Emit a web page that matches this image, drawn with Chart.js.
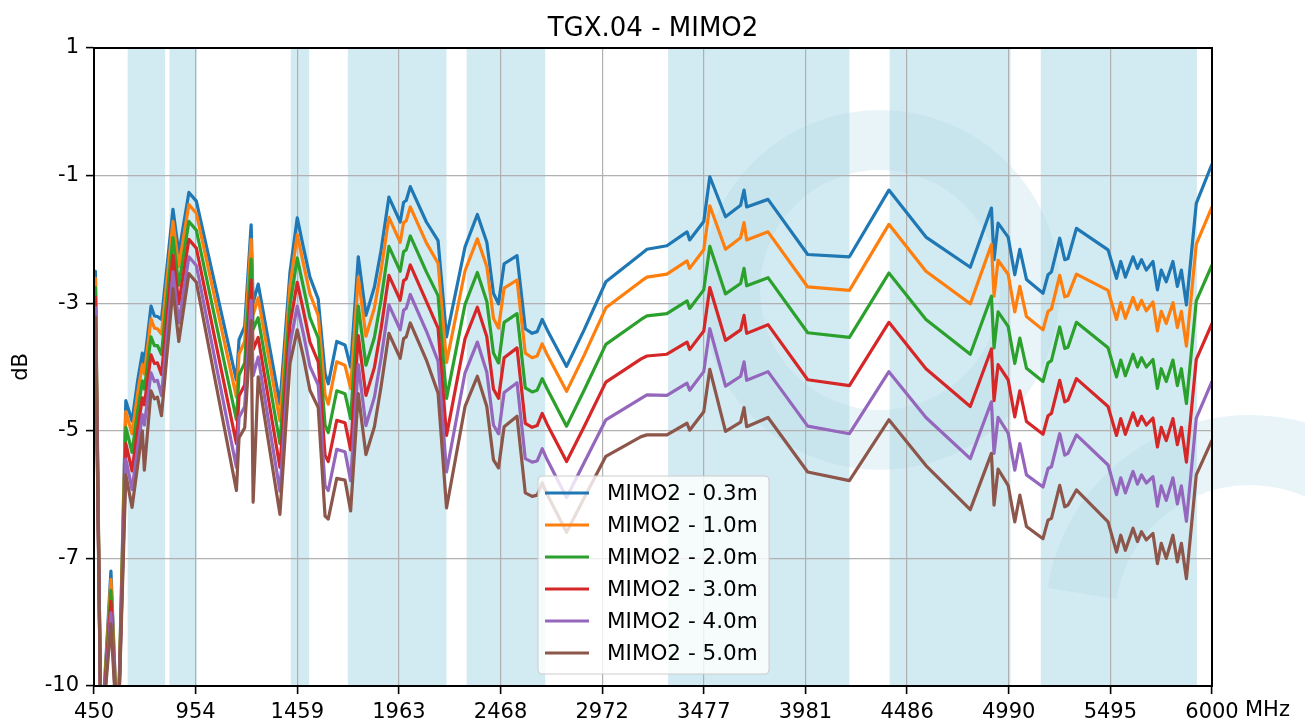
<!DOCTYPE html>
<html>
<head>
<meta charset="utf-8">
<title>TGX.04 - MIMO2</title>
<script src="https://cdn.jsdelivr.net/npm/chart.js@4.4.1/dist/chart.umd.min.js"></script>
<style>
  html, body { margin: 0; padding: 0; background: #fff; }
  #wrap { width: 1305px; height: 722px; }
</style>
</head>
<body>
<div id="wrap"><canvas id="chart" width="1305" height="722"></canvas></div>
<script>
// ---- data ----
const chartTitle = 'TGX.04 - MIMO2';
const seriesLabels = ['MIMO2 - 0.3m', 'MIMO2 - 1.0m', 'MIMO2 - 2.0m', 'MIMO2 - 3.0m', 'MIMO2 - 4.0m', 'MIMO2 - 5.0m'];

const freqMHz = [
  450, 457, 485, 534, 568, 608, 639, 667, 690, 700,
  733, 750, 765, 785, 842, 871, 921, 958, 1157, 1170,
  1198, 1230, 1240, 1265, 1373, 1423, 1459, 1489, 1522, 1563,
  1597, 1613, 1655, 1696, 1724, 1762, 1800, 1842, 1875, 1914,
  1970, 1987, 2000, 2020, 2100, 2158, 2200, 2292, 2353, 2400,
  2433, 2458, 2486, 2550, 2591, 2625, 2650, 2675, 2700, 2796,
  2883, 2991, 3166, 3195, 3294, 3394, 3407, 3477, 3507, 3585,
  3660, 3677, 3690, 3796, 3993, 4200, 4396, 4580, 4800, 4905,
  4918, 4938, 4988, 5021, 5046, 5079, 5161, 5186, 5203, 5244,
  5269, 5285, 5327, 5484, 5526, 5547, 5570, 5608, 5630, 5650,
  5674, 5707, 5729, 5748, 5773, 5806, 5828, 5848, 5873, 5922,
  6000
];

const mimo03 = [
  -3.0, -2.85, -11, -8.02, -11, -5.08, -5.43, -4.73, -4.26, -4.44,
  -3.45, -3.62, -3.63, -3.68, -1.78, -2.54, -1.49, -1.64, -4.73, -4.03,
  -3.80, -2.05, -3.4, -3.07, -5.14, -2.86, -1.93, -2.43, -2.95, -3.33,
  -4.61, -4.79, -4.06, -4.12, -4.50, -2.6, -3.61, -3.12, -2.49, -1.57,
  -2.0, -1.66, -1.63, -1.39, -2.0, -2.32, -3.98, -2.43, -1.87, -2.35,
  -3.23, -3.41, -2.72, -2.58, -3.84, -3.92, -3.89, -3.68, -3.86, -4.49,
  -3.86, -3.03, -2.55, -2.47, -2.41, -2.17, -2.31, -1.99, -1.22, -1.91,
  -1.71, -1.45, -1.74, -1.61, -2.56, -2.6, -1.45, -2.26, -2.78, -1.76,
  -2.65, -2.02, -2.26, -2.91, -2.47, -2.99, -3.23, -2.91, -2.86, -2.28,
  -2.65, -2.63, -2.11, -2.48, -2.97, -2.68, -2.95, -2.6, -2.8, -2.65,
  -2.83, -2.68, -3.17, -2.83, -3.03, -2.68, -3.11, -2.83, -3.43, -1.68,
  -1.0
];

const mimo10 = [
  -3.1, -2.97, -11, -8.16, -11, -5.27, -5.65, -4.95, -4.46, -4.62,
  -3.67, -3.83, -3.84, -3.93, -1.99, -2.77, -1.7, -1.85, -5.02, -4.28,
  -4.06, -2.3, -3.6, -3.31, -5.43, -3.1, -2.22, -2.71, -3.24, -3.61,
  -4.98, -5.14, -4.41, -4.47, -4.87, -2.95, -3.97, -3.48, -2.84, -1.92,
  -2.35, -2.01, -1.98, -1.74, -2.36, -2.71, -4.42, -2.84, -2.29, -2.77,
  -3.66, -3.83, -3.14, -3.0, -4.26, -4.34, -4.31, -4.1, -4.29, -4.92,
  -4.3, -3.48, -3.02, -2.95, -2.9, -2.67, -2.8, -2.48, -1.72, -2.47,
  -2.27, -2.01, -2.31, -2.17, -3.12, -3.18, -2.04, -2.85, -3.41, -2.39,
  -3.28, -2.66, -2.9, -3.55, -3.11, -3.63, -3.86, -3.54, -3.5, -2.92,
  -3.29, -3.27, -2.9, -3.18, -3.68, -3.39, -3.66, -3.3, -3.51, -3.35,
  -3.53, -3.38, -3.88, -3.54, -3.75, -3.39, -3.82, -3.54, -4.14, -2.38,
  -1.74
];

const mimo20 = [
  -3.25, -3.13, -11, -8.35, -11, -5.54, -5.97, -5.26, -4.74, -4.88,
  -3.98, -4.13, -4.13, -4.28, -2.27, -3.09, -1.99, -2.14, -5.41, -4.64,
  -4.43, -2.64, -3.85, -3.65, -5.82, -3.43, -2.62, -3.11, -3.65, -4.0,
  -5.5, -5.63, -4.91, -4.96, -5.39, -3.45, -4.47, -3.99, -3.34, -2.42,
  -2.85, -2.51, -2.48, -2.24, -2.86, -3.27, -5.04, -3.42, -2.87, -3.37,
  -4.26, -4.43, -3.73, -3.58, -4.86, -4.93, -4.9, -4.7, -4.88, -5.52,
  -4.9, -4.11, -3.68, -3.62, -3.58, -3.36, -3.49, -3.17, -2.42, -3.24,
  -3.06, -2.8, -3.1, -2.96, -3.91, -3.99, -2.88, -3.68, -4.28, -3.28,
  -4.17, -3.55, -3.8, -4.44, -4.0, -4.52, -4.75, -4.43, -4.39, -3.81,
  -4.18, -4.16, -3.73, -4.17, -4.67, -4.38, -4.65, -4.28, -4.5, -4.34,
  -4.5, -4.37, -4.87, -4.53, -4.75, -4.38, -4.82, -4.53, -5.13, -3.36,
  -2.74
];

const mimo30 = [
  -3.4, -3.3, -11, -8.54, -11, -5.82, -6.29, -5.57, -5.03, -5.15,
  -4.29, -4.44, -4.43, -4.63, -2.57, -3.41, -2.3, -2.45, -5.82, -5.0,
  -4.81, -3.0, -4.2, -3.99, -6.23, -3.77, -3.04, -3.52, -4.07, -4.41,
  -6.02, -6.13, -5.42, -5.46, -5.93, -3.96, -4.99, -4.51, -3.84, -2.92,
  -3.35, -3.01, -2.98, -2.74, -3.37, -3.83, -5.68, -4.01, -3.47, -3.98,
  -4.88, -5.04, -4.34, -4.17, -5.47, -5.54, -5.51, -5.3, -5.49, -6.13,
  -5.53, -4.76, -4.36, -4.31, -4.28, -4.07, -4.2, -3.88, -3.13, -4.04,
  -3.86, -3.61, -3.92, -3.77, -4.72, -4.82, -3.73, -4.53, -5.18, -4.19,
  -5.08, -4.46, -4.72, -5.36, -4.91, -5.44, -5.66, -5.34, -5.3, -4.73,
  -5.1, -5.07, -4.7, -5.18, -5.68, -5.39, -5.66, -5.29, -5.51, -5.35,
  -5.5, -5.38, -5.88, -5.54, -5.77, -5.39, -5.84, -5.54, -6.14, -4.37,
  -3.75
];

const mimo40 = [
  -3.6, -3.47, -11, -8.74, -11, -6.09, -6.61, -5.88, -5.32, -5.5,
  -4.6, -4.75, -4.73, -4.99, -2.86, -3.74, -2.6, -2.75, -6.23, -5.37,
  -5.18, -3.35, -4.65, -4.33, -6.64, -4.11, -3.45, -3.92, -4.49, -4.81,
  -6.55, -6.63, -5.92, -5.96, -6.46, -4.46, -5.51, -5.02, -4.35, -3.43,
  -3.86, -3.52, -3.49, -3.25, -3.88, -4.4, -6.31, -4.6, -4.07, -4.59,
  -5.5, -5.65, -4.94, -4.77, -6.08, -6.14, -6.12, -5.91, -6.1, -6.75,
  -6.15, -5.41, -5.04, -4.98, -4.99, -4.78, -4.9, -4.58, -3.84, -4.83,
  -4.66, -4.41, -4.73, -4.58, -5.52, -5.65, -4.58, -5.37, -6.08, -5.1,
  -5.99, -5.37, -5.64, -6.28, -5.82, -6.36, -6.57, -6.25, -6.22, -5.65,
  -6.02, -5.99, -5.67, -6.19, -6.7, -6.41, -6.67, -6.3, -6.52, -6.36,
  -6.5, -6.39, -6.9, -6.55, -6.8, -6.41, -6.86, -6.55, -7.16, -5.38,
  -4.75
];

const mimo50 = [
  -5.07, -3.64, -11, -8.93, -11, -6.36, -6.92, -6.19, -5.6, -6.28,
  -4.91, -5.05, -5.02, -5.34, -3.15, -4.06, -2.89, -3.04, -6.63, -5.72,
  -5.55, -3.7, -6.83, -4.67, -7.04, -4.44, -3.86, -4.32, -4.9, -5.2,
  -7.07, -7.12, -6.42, -6.45, -6.98, -4.96, -6.01, -5.53, -4.84, -3.92,
  -4.35, -4.01, -3.98, -3.74, -4.38, -4.95, -6.93, -5.18, -4.66, -5.18,
  -6.1, -6.24, -5.53, -5.35, -6.67, -6.73, -6.71, -6.5, -6.7, -7.35,
  -6.76, -6.04, -5.7, -5.67, -5.67, -5.47, -5.59, -5.27, -4.54, -5.61,
  -5.45, -5.2, -5.53, -5.37, -6.31, -6.46, -5.41, -6.2, -6.96, -5.99,
  -6.88, -6.26, -6.54, -7.17, -6.71, -7.25, -7.46, -7.14, -7.11, -6.54,
  -6.91, -6.88, -6.62, -7.17, -7.69, -7.4, -7.66, -7.28, -7.51, -7.34,
  -7.48, -7.37, -7.89, -7.54, -7.8, -7.4, -7.86, -7.54, -8.15, -6.36,
  -5.76
];

// shaded frequency bands (MHz)
const bandStart = [617, 824, 1427, 1710, 2300, 3300, 4400, 5150];
const bandEnd = [803, 960, 1518, 2200, 2690, 4200, 5000, 5925];

// axis ticks
const xTickValues = [450, 954.5, 1459.1, 1963.6, 2468.2, 2972.7, 3477.3, 3981.8, 4486.4, 4990.9, 5495.5, 6000];
const xTickLabels = ['450', '954', '1459', '1963', '2468', '2972', '3477', '3981', '4486', '4990', '5495', '6000'];
const yTickValues = [1, -1.2, -3.4, -5.6, -7.8, -10];
const yTickLabels = ['1', '-1', '-3', '-5', '-7', '-10'];

// ---- styling ----
const colors = ['#1f77b4', '#ff7f0e', '#2ca02c', '#d62728', '#9467bd', '#8c564b'];
const FONT = 'DejaVu Sans';
const allSeries = [mimo03, mimo10, mimo20, mimo30, mimo40, mimo50];

const datasets = allSeries.map((vals, i) => ({
    label: seriesLabels[i],
    data: freqMHz.map((f, k) => ({ x: f, y: vals[k] })),
    borderColor: colors[i],
    backgroundColor: colors[i],
    borderWidth: 3.2,
    pointRadius: 0,
    tension: 0,
    fill: false,
    order: allSeries.length - i,
    borderJoinStyle: 'round'
}));

// faint background logo + bands under the grid
const bandsPlugin = {
    id: 'bands',
    beforeDraw(chart) {
        const { ctx, chartArea, scales } = chart;
        ctx.save();
        // faint watermark strokes
        ctx.strokeStyle = 'rgba(120, 185, 220, 0.16)';
        ctx.lineWidth = 60;
        ctx.beginPath();
        ctx.arc(880, 290, 150, 0, Math.PI * 2);
        ctx.stroke();
        ctx.lineWidth = 70;
        ctx.beginPath();
        ctx.arc(1250, 620, 170, Math.PI * 1.05, Math.PI * 1.95);
        ctx.stroke();

        ctx.fillStyle = 'rgba(173, 216, 230, 0.55)';
        for (let i = 0; i < bandStart.length; i++) {
            const x0 = scales.x.getPixelForValue(bandStart[i]);
            const x1 = scales.x.getPixelForValue(bandEnd[i]);
            ctx.fillRect(x0, chartArea.top, x1 - x0, chartArea.bottom - chartArea.top);
        }
        ctx.restore();
    }
};

// frame, title, legend, unit
const decorPlugin = {
    id: 'decor',
    afterDraw(chart) {
        const { ctx, chartArea } = chart;
        ctx.save();
        // frame
        ctx.strokeStyle = '#000';
        ctx.lineWidth = 2;
        ctx.strokeRect(chartArea.left, chartArea.top, chartArea.right - chartArea.left, chartArea.bottom - chartArea.top);

        // title
        ctx.fillStyle = '#000';
        ctx.font = '26px "' + FONT + '"';
        ctx.textAlign = 'center';
        ctx.textBaseline = 'alphabetic';
        ctx.fillText(chartTitle, (chartArea.left + chartArea.right) / 2, 36);

        // unit after the last x tick
        ctx.font = '21px "' + FONT + '"';
        ctx.textAlign = 'left';
        ctx.textBaseline = 'top';
        ctx.fillText('MHz', chartArea.right + 33, chartArea.bottom + 14);

        // legend
        const lx = 538, ly = 476, lw = 231, lh = 198;
        ctx.fillStyle = 'rgba(255,255,255,0.8)';
        ctx.strokeStyle = '#cccccc';
        ctx.lineWidth = 1;
        ctx.beginPath();
        ctx.roundRect(lx, ly, lw, lh, 4);
        ctx.fill();
        ctx.stroke();
        ctx.font = '21.5px "' + FONT + '"';
        ctx.textBaseline = 'middle';
        chart.data.datasets.forEach((ds, i) => {
            const y = ly + 17 + i * 32;
            ctx.strokeStyle = ds.borderColor;
            ctx.lineWidth = 3.2;
            ctx.beginPath();
            ctx.moveTo(lx + 7, y);
            ctx.lineTo(lx + 51, y);
            ctx.stroke();
            ctx.fillStyle = '#000';
            ctx.fillText(ds.label, lx + 69, y + 1);
        });
        ctx.restore();
    }
};

const ctx = document.getElementById('chart').getContext('2d');
new Chart(ctx, {
    type: 'line',
    data: { datasets: datasets },
    options: {
        responsive: false,
        animation: false,
        events: [],
        layout: { padding: { top: 48, right: 93, left: 0, bottom: 0 }, autoPadding: false },
        plugins: { legend: { display: false }, title: { display: false }, tooltip: { enabled: false } },
        scales: {
            x: {
                type: 'linear',
                min: 450,
                max: 6000,
                afterBuildTicks: s => { s.ticks = xTickValues.map(v => ({ value: v })); },
                afterFit: s => { s.height = 36; },
                ticks: {
                    callback: (v, i) => xTickLabels[i],
                    autoSkip: false,
                    maxRotation: 0,
                    padding: 6,
                    color: '#000',
                    font: { family: FONT, size: 21 }
                },
                grid: { color: '#b0b0b0', lineWidth: 1.2, tickColor: '#000', tickLength: 8, tickWidth: 1.6 },
                border: { color: '#000', width: 2 }
            },
            y: {
                type: 'linear',
                min: -10,
                max: 1,
                afterBuildTicks: s => { s.ticks = yTickValues.map(v => ({ value: v })); },
                afterFit: s => { s.width = 94; },
                ticks: {
                    callback: (v, i) => yTickLabels[i],
                    autoSkip: false,
                    padding: 7,
                    color: '#000',
                    font: { family: FONT, size: 21 }
                },
                grid: { color: '#b0b0b0', lineWidth: 1.2, tickColor: '#000', tickLength: 8, tickWidth: 1.6 },
                border: { color: '#000', width: 2 },
                title: {
                    display: true,
                    text: 'dB',
                    color: '#000',
                    font: { family: FONT, size: 21 },
                    padding: { top: 9, bottom: 0 }
                }
            }
        }
    },
    plugins: [bandsPlugin, decorPlugin]
});
</script>
</body>
</html>
